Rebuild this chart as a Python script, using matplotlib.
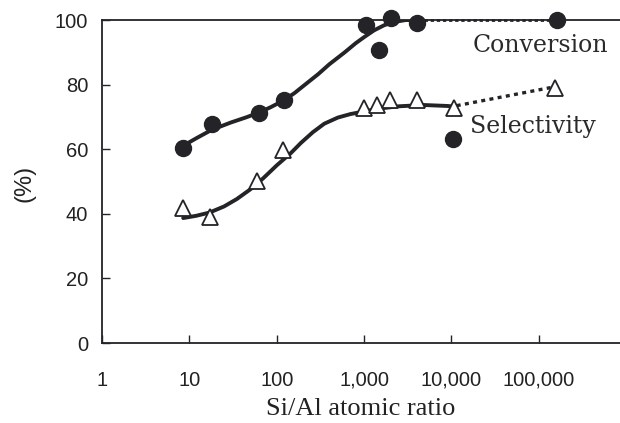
import matplotlib.pyplot as plt
from matplotlib.ticker import FixedLocator, FixedFormatter, NullLocator

conv_x = [8.4, 18, 62, 120, 1040, 1465, 2060, 4090, 161000]
conv_y = [60.4, 67.8, 71.2, 75.2, 98.5, 90.7, 100.5, 99.0, 100.0]
odd_x = [10500]
odd_y = [63.2]
sel_x = [8.5, 17.2, 60, 117, 990, 1400, 2000, 4000, 10800, 155000]
sel_y = [41.8, 39.0, 50.2, 59.8, 72.7, 73.7, 75.2, 75.2, 72.7, 79.0]

# hand-drawn trend curves
conv_fit_x = [8.4, 12, 18, 30, 45, 62, 85, 120, 160, 200, 300, 400, 600, 800,
              1000, 1300, 1700, 2200, 3000, 4200]
conv_fit_y = [61, 63.4, 66.0, 68.3, 69.9, 71.3, 73.0, 75.1, 77.4, 79.5, 83.3, 86.3,
              90.0, 92.8, 94.7, 96.8, 98.4, 99.4, 100, 100]
conv_dot_x = [4200, 160000]
conv_dot_y = [100, 100]
sel_fit_x = [8.5, 12, 17, 25, 35, 50, 70, 100, 145, 190, 260, 350, 500, 700,
             1000, 1500, 2500, 4800, 9000, 11000]
sel_fit_y = [38.7, 39.4, 40.4, 42.3, 44.6, 47.6, 51, 55, 58.8, 62, 65.3, 67.9,
             69.8, 70.9, 71.7, 72.6, 73.3, 73.7, 73.4, 73.2]
sel_dot_x = [11500, 150000]
sel_dot_y = [73.5, 79.3]

xticks = [1, 10, 100, 1000, 10000, 100000]
xlabels = ['1', '10', '100', '1,000', '10,000', '100,000']
yticks = [0, 20, 40, 60, 80, 100]

ink = '#232328'

fig = plt.figure(figsize=(6.2, 4.23), dpi=100)
ax = fig.add_axes([0.1645, 0.189, 1 - 0.1645, 0.7636])

ax.plot(conv_fit_x, conv_fit_y, color=ink, lw=2.8, solid_capstyle='round', zorder=2)
ax.plot(conv_dot_x, conv_dot_y, color=ink, lw=2.0, ls=(0, (1.2, 1.0)), clip_on=False, zorder=2)
ax.plot(sel_fit_x, sel_fit_y, color=ink, lw=2.8, solid_capstyle='round', zorder=2)
ax.plot(sel_dot_x, sel_dot_y, color=ink, lw=2.4, ls=(0, (1.2, 1.3)), zorder=2)

ax.plot(conv_x, conv_y, 'o', color=ink, ms=11.5, mec=ink, clip_on=False, zorder=3)
ax.plot(odd_x, odd_y, 'o', color=ink, ms=11.5, zorder=3)
ax.plot(sel_x, sel_y, '^', mfc='white', mec=ink, mew=1.3, ms=11.5, clip_on=False, zorder=3)

ax.set_xscale('log')
ax.set_xlim(1, 10 ** 5.93)
ax.set_ylim(0, 100)

ax.xaxis.set_major_locator(FixedLocator(xticks))
ax.xaxis.set_major_formatter(FixedFormatter(xlabels))
ax.xaxis.set_minor_locator(NullLocator())
ax.set_yticks(yticks)

ax.tick_params(direction='in', length=6, width=1.0, color=ink,
               labelsize=14.5, labelcolor='#222222')
ax.tick_params(axis='x', pad=20)
ax.tick_params(axis='y', pad=10)
for lbl in ax.get_xticklabels() + ax.get_yticklabels():
    lbl.set_family('Liberation Sans')

for side in ['left', 'bottom', 'top']:
    ax.spines[side].set_linewidth(1.3)
    ax.spines[side].set_color(ink)
ax.spines['right'].set_visible(False)

ax.set_xlabel('Si/Al atomic ratio', family='Liberation Serif', fontsize=19,
              color='#222222', labelpad=6)
fig.text(0.04, 0.567, '(%)', rotation=90, ha='center', va='center',
         family='Liberation Sans', fontsize=17, color='#222222')

ax.text(0.716, 0.922, 'Conversion', transform=ax.transAxes, family='DejaVu Serif',
        fontsize=17, color='#2a2a2a', ha='left', va='center')
ax.text(0.710, 0.669, 'Selectivity', transform=ax.transAxes, family='DejaVu Serif',
        fontsize=17, color='#2a2a2a', ha='left', va='center')

fig.savefig('out.png', dpi=100)
